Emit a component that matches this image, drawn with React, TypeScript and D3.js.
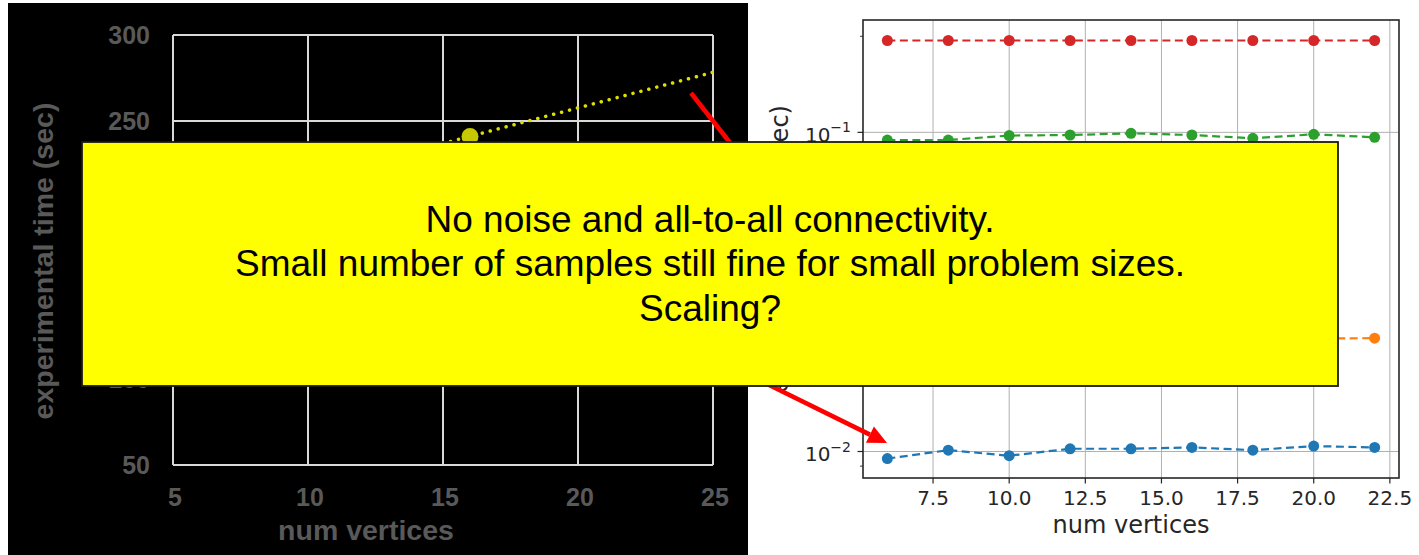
import React from "react";
import * as d3 from "d3";

const W = 1419;
const H = 555;

// Left panel: measured run time against graph size
const leftXTicks = [5, 10, 15, 20, 25];
const leftYTicks = [50, 100, 150, 200, 250, 300];
const measuredVertices = [16];
const measuredTimes = [241];
const fitVertices = [5, 25];
const fitTimes = [195.6, 278.3];

// Right panel: simulated time per configuration (log scale)
const vertices = [6, 8, 10, 12, 14, 16, 18, 20, 22];
const blueTimes = [0.0095, 0.0101, 0.0097, 0.0102, 0.0102, 0.0103, 0.0101, 0.0104, 0.0103];
const orangeTimes = [0.0222, 0.0225, 0.0223, 0.0226, 0.0225, 0.0227, 0.0224, 0.0226, 0.02265];
const greenTimes = [0.0946, 0.0946, 0.0977, 0.0981, 0.0993, 0.0981, 0.0958, 0.0986, 0.0965];
const redTimes = [0.194, 0.194, 0.194, 0.194, 0.194, 0.194, 0.194, 0.194, 0.194];
const rightXTicks = [7.5, 10, 12.5, 15, 17.5, 20, 22.5];
const rightYTicks = [0.01, 0.1];
const rightMinorTicks = [0.009, 0.02, 0.03, 0.04, 0.05, 0.06, 0.07, 0.08, 0.09, 0.2];

const noteLines = [
  "No noise and all-to-all connectivity.",
  "Small number of samples still fine for small problem sizes.",
  "Scaling?",
];

const series = [
  { values: blueTimes, color: "#1f77b4" },
  { values: orangeTimes, color: "#ff7f0e" },
  { values: greenTimes, color: "#2ca02c" },
  { values: redTimes, color: "#d62728" },
];

const LEFT_FONT = "'Liberation Sans', Arial, sans-serif";
const RIGHT_FONT = "'DejaVu Sans', sans-serif";
const GRAY = "#595959";

export default function App() {
  // left chart scales
  const xL = d3.scaleLinear().domain([5, 25]).range([173, 713]);
  const yL = d3.scaleLinear().domain([50, 300]).range([465, 35]);

  // right chart scales
  const xR = d3.scaleLinear().domain([5.2, 22.8]).range([863, 1399]);
  const yR = d3
    .scaleLog()
    .domain([Math.pow(10, -2.083), Math.pow(10, -0.648)])
    .range([478, 20]);

  const fitLine = d3
    .line<number>()
    .x((_, i) => xL(fitVertices[i]))
    .y((d) => yL(d));

  const seriesLine = d3
    .line<number>()
    .x((_, i) => xR(vertices[i]))
    .y((d) => yR(d));

  const [r0, r1] = xR.range();
  const [b0, t0] = yR.range();

  // arrow geometry
  const arrowA = { x1: 691, y1: 93, x2: 760, y2: 181 };
  const arrowB = { x1: 700, y1: 351, x2: 887, y2: 443 };
  const headLen = 19;
  const headHalf = 9;
  const ang = Math.atan2(arrowB.y2 - arrowB.y1, arrowB.x2 - arrowB.x1);
  const bx = arrowB.x2 - headLen * Math.cos(ang);
  const by = arrowB.y2 - headLen * Math.sin(ang);
  const head = [
    [arrowB.x2, arrowB.y2],
    [bx + headHalf * Math.sin(ang), by - headHalf * Math.cos(ang)],
    [bx - headHalf * Math.sin(ang), by + headHalf * Math.cos(ang)],
  ];

  return (
    <svg
      width={W}
      height={H}
      viewBox={`0 0 ${W} ${H}`}
      style={{ position: "absolute", left: 0, top: 0, display: "block" }}
    >
      <rect x={0} y={0} width={W} height={H} fill="#ffffff" />

      {/* dark slide panel */}
      <rect x={8} y={3} width={740} height={552} fill="#000000" />

      {/* left chart grid */}
      <g stroke="#d9d9d9" strokeWidth={2} fill="none">
        {leftXTicks.map((t) => (
          <line key={"lx" + t} x1={xL(t)} x2={xL(t)} y1={yL(50)} y2={yL(300)} />
        ))}
        {leftYTicks.map((t) => (
          <line key={"ly" + t} x1={xL(5)} x2={xL(25)} y1={yL(t)} y2={yL(t)} />
        ))}
      </g>
      <g fontFamily={LEFT_FONT} fontWeight="bold" fill={GRAY} fontSize={25}>
        {leftYTicks.map((t) => (
          <text key={"lyt" + t} x={150} y={yL(t) + 9} textAnchor="end">
            {t}
          </text>
        ))}
        {leftXTicks.map((t) => (
          <text key={"lxt" + t} x={xL(t) + 2} y={506} textAnchor="middle">
            {t}
          </text>
        ))}
      </g>
      <text
        x={366}
        y={540}
        textAnchor="middle"
        fontFamily={LEFT_FONT}
        fontWeight="bold"
        fontSize={28.5}
        fill={GRAY}
      >
        num vertices
      </text>
      <text
        transform="translate(53,261) rotate(-90)"
        textAnchor="middle"
        fontFamily={LEFT_FONT}
        fontWeight="bold"
        fontSize={28.5}
        fill={GRAY}
      >
        experimental time (sec)
      </text>

      {/* linear fit through measurements */}
      <path
        d={fitLine(fitTimes) || ""}
        fill="none"
        stroke="#dede00"
        strokeWidth={3.5}
        strokeLinecap="round"
        strokeDasharray="0.1 8.1"
      />
      {measuredVertices.map((v, i) => (
        <circle key={"m" + v} cx={xL(v)} cy={yL(measuredTimes[i])} r={8.5} fill="#c8c800" />
      ))}

      {/* right chart */}
      <g>
        <rect x={r0} y={t0} width={r1 - r0} height={b0 - t0} fill="#ffffff" />
        <g stroke="#b0b0b0" strokeWidth={1}>
          {rightXTicks.map((t) => (
            <line key={"rx" + t} x1={xR(t)} x2={xR(t)} y1={t0} y2={b0} />
          ))}
          {rightYTicks.map((t) => (
            <line key={"ry" + t} x1={r0} x2={r1} y1={yR(t)} y2={yR(t)} />
          ))}
        </g>
        {series.map((s, k) => (
          <g key={"s" + k}>
            <path
              d={seriesLine(s.values) || ""}
              fill="none"
              stroke={s.color}
              strokeWidth={2.2}
              strokeDasharray="8 4.5"
            />
            {s.values.map((v, i) => (
              <circle key={i} cx={xR(vertices[i])} cy={yR(v)} r={5.5} fill={s.color} />
            ))}
          </g>
        ))}
        <rect
          x={r0}
          y={t0}
          width={r1 - r0}
          height={b0 - t0}
          fill="none"
          stroke="#262626"
          strokeWidth={1.6}
        />
        <g stroke="#262626" strokeWidth={1.2}>
          {rightXTicks.map((t) => (
            <line key={"rxt" + t} x1={xR(t)} x2={xR(t)} y1={b0} y2={b0 + 5.5} />
          ))}
          {rightYTicks.map((t) => (
            <line key={"ryt" + t} x1={r0} x2={r0 - 5.5} y1={yR(t)} y2={yR(t)} />
          ))}
          {rightMinorTicks.map((t) => (
            <line key={"rmt" + t} x1={r0} x2={r0 - 3} y1={yR(t)} y2={yR(t)} strokeWidth={0.9} />
          ))}
        </g>
        <g fontFamily={RIGHT_FONT} fill="#262626">
          {rightXTicks.map((t) => (
            <text key={"rxl" + t} x={xR(t)} y={505} textAnchor="middle" fontSize={20}>
              {d3.format(".1f")(t)}
            </text>
          ))}
          {rightYTicks.map((t) => (
            <text key={"ryl" + t} x={851} y={yR(t) + 9.5} textAnchor="end" fontSize={20}>
              10
              <tspan fontSize={14} dy={-9.5}>
                {"\u2212" + Math.round(-Math.log10(t))}
              </tspan>
            </text>
          ))}
          <text x={xR(14)} y={533} textAnchor="middle" fontSize={24}>
            num vertices
          </text>
          <text
            transform={`translate(788,${(t0 + b0) / 2}) rotate(-90)`}
            textAnchor="middle"
            fontSize={24}
          >
            experimental time (sec)
          </text>
        </g>
      </g>

      {/* callout arrows */}
      <g stroke="#ff0000" strokeWidth={4.5} strokeLinecap="butt">
        <line x1={arrowA.x1} y1={arrowA.y1} x2={arrowA.x2} y2={arrowA.y2} />
        <line x1={arrowB.x1} y1={arrowB.y1} x2={bx} y2={by} />
      </g>
      <polygon points={head.map((p) => p.join(",")).join(" ")} fill="#ff0000" />

      {/* annotation box */}
      <rect x={82} y={142} width={1256} height={244} fill="#ffff00" stroke="#1a1a1a" strokeWidth={1.8} />
      <g fontFamily={LEFT_FONT} fontSize={37} fill="#000000" textAnchor="middle">
        {noteLines.map((line, i) => (
          <text key={i} x={710} y={232 + i * 44.3}>
            {line}
          </text>
        ))}
      </g>
    </svg>
  );
}
